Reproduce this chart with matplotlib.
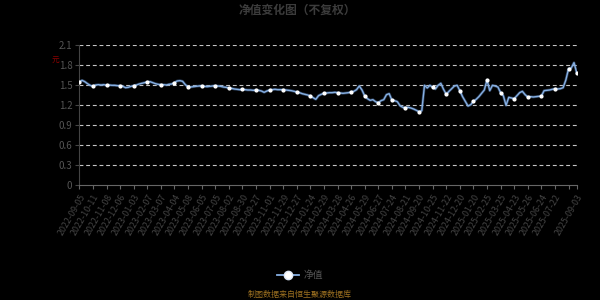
import matplotlib
matplotlib.use("Agg")
import matplotlib.pyplot as plt
from matplotlib.lines import Line2D

plt.rcParams['font.family'] = ['Noto Sans CJK SC', 'DejaVu Sans']

title = "净值变化图（不复权）"
series_name = "净值"
source_note = "制图数据来自恒生聚源数据库"
unit_label = "元"

nav = [
    1.55, 1.575, 1.555, 1.525, 1.50, 1.485, 1.505, 1.51, 1.505, 1.51,
    1.50, 1.505, 1.50, 1.50, 1.495, 1.495, 1.485, 1.465, 1.47, 1.485,
    1.495, 1.505, 1.52, 1.53, 1.54, 1.55, 1.555, 1.54, 1.525, 1.515,
    1.51, 1.51, 1.505, 1.515, 1.52, 1.54, 1.565, 1.57, 1.56, 1.51,
    1.475, 1.475, 1.48, 1.485, 1.49, 1.49, 1.485, 1.48, 1.485, 1.49,
    1.495, 1.49, 1.485, 1.475, 1.47, 1.46, 1.455, 1.445, 1.44, 1.435,
    1.44, 1.435, 1.43, 1.43, 1.425, 1.43, 1.425, 1.415, 1.395, 1.415,
    1.43, 1.435, 1.44, 1.435, 1.435, 1.435, 1.43, 1.425, 1.42, 1.41,
    1.40, 1.39, 1.375, 1.365, 1.355, 1.34, 1.315, 1.29, 1.345, 1.365,
    1.38, 1.385, 1.39, 1.39, 1.395, 1.39, 1.385, 1.38, 1.385, 1.39,
    1.40, 1.41, 1.435, 1.49, 1.43, 1.34, 1.30, 1.275, 1.285, 1.255,
    1.24, 1.27, 1.285, 1.36, 1.375, 1.28, 1.27, 1.255, 1.195, 1.17,
    1.165, 1.17, 1.16, 1.145, 1.125, 1.105, 1.12, 1.50, 1.46, 1.50,
    1.47, 1.445, 1.50, 1.53, 1.44, 1.365, 1.41, 1.45, 1.49, 1.50,
    1.42, 1.33, 1.26, 1.19, 1.21, 1.26, 1.29, 1.33, 1.38, 1.43,
    1.58, 1.42, 1.50, 1.49, 1.475, 1.39, 1.345, 1.20, 1.32, 1.31,
    1.30, 1.345, 1.39, 1.41, 1.36, 1.325, 1.33, 1.325, 1.33, 1.335,
    1.34, 1.42, 1.425, 1.43, 1.44, 1.45, 1.445, 1.45, 1.465, 1.58,
    1.75, 1.76, 1.84, 1.69,
]

x_labels = [
    "2022-09-05", "2022-10-11", "2022-11-08", "2022-12-06", "2023-01-03",
    "2023-02-07", "2023-03-07", "2023-04-04", "2023-05-08", "2023-06-05",
    "2023-07-05", "2023-08-02", "2023-08-30", "2023-09-27", "2023-11-01",
    "2023-11-29", "2023-12-27", "2024-01-24", "2024-02-29", "2024-03-28",
    "2024-04-26", "2024-05-29", "2024-06-27", "2024-07-24", "2024-08-21",
    "2024-09-20", "2024-10-25", "2024-11-22", "2024-12-20", "2025-01-20",
    "2025-02-25", "2025-03-25", "2025-04-23", "2025-05-26", "2025-06-24",
    "2025-07-22", "", "2025-09-03",
]

y_ticks = [0, 0.3, 0.6, 0.9, 1.2, 1.5, 1.8, 2.1]

n = len(nav)
step = 5
tick_pos = list(range(0, n - 3, step)) + [n - 1]
xs = list(range(n))

fig = plt.figure(figsize=(6, 3), dpi=100, facecolor='black')
ax = fig.add_axes([0.1322, 0.382, 0.8290, 0.467])
ax.set_facecolor('black')

line_color = '#86afe2'
ax.plot(xs, nav, color='#5b82b8', lw=2.0, alpha=0.45, zorder=2,
        solid_joinstyle='round')
ax.plot(xs, nav, color=line_color, lw=1.0, zorder=3,
        solid_joinstyle='round')
ax.plot(tick_pos, [nav[i] for i in tick_pos], linestyle='none', marker='o',
        ms=2.0, mfc='white', mec='white', zorder=4)

ax.set_xlim(0, n - 1)
ax.set_ylim(0, 2.1)
ax.set_yticks(y_ticks)
ax.set_yticklabels([f"{v:g}" for v in y_ticks])
ax.set_xticks(tick_pos)
ax.set_xticklabels(x_labels, rotation=60, ha='right', va='top',
                   rotation_mode='anchor')

for v in y_ticks[1:]:
    ax.axhline(v, color='#c4c4c4', lw=0.8, ls=(0, (3.5, 2.5)), zorder=1)

for s in ['top', 'right']:
    ax.spines[s].set_visible(False)
ax.spines['left'].set_color('#444444')
ax.spines['bottom'].set_color('#666666')
ax.spines['left'].set_linewidth(0.8)
ax.spines['bottom'].set_linewidth(0.8)

ax.tick_params(axis='y', colors='#444444', labelcolor='#555555',
               labelsize=7, length=3, width=0.8, pad=2)
ax.tick_params(axis='x', colors='#666666', labelcolor='#444444',
               labelsize=6.4, length=3, width=0.8, pad=2)

fig.text(0.495, 0.967, title, ha='center', va='center', color='#3c3c3c',
         fontsize=8.5, fontweight='bold')
fig.text(0.093, 0.798, unit_label, ha='center', va='center',
         color='#8b0000', fontsize=5.5)

handle = Line2D([0], [0], color=line_color, lw=1.3, marker='o', ms=6,
                mfc='white', mec='#dde8f8', mew=1.0)
fig.legend([handle], [series_name], loc='center', bbox_to_anchor=(0.5, 0.083),
           frameon=False, labelcolor='#555555', fontsize=7,
           handlelength=2.2, handletextpad=0.5)

fig.text(0.5, 0.017, source_note, ha='center', va='center',
         color='#9c7020', fontsize=5.8)

fig.savefig('out.png', dpi=100, facecolor='black')
